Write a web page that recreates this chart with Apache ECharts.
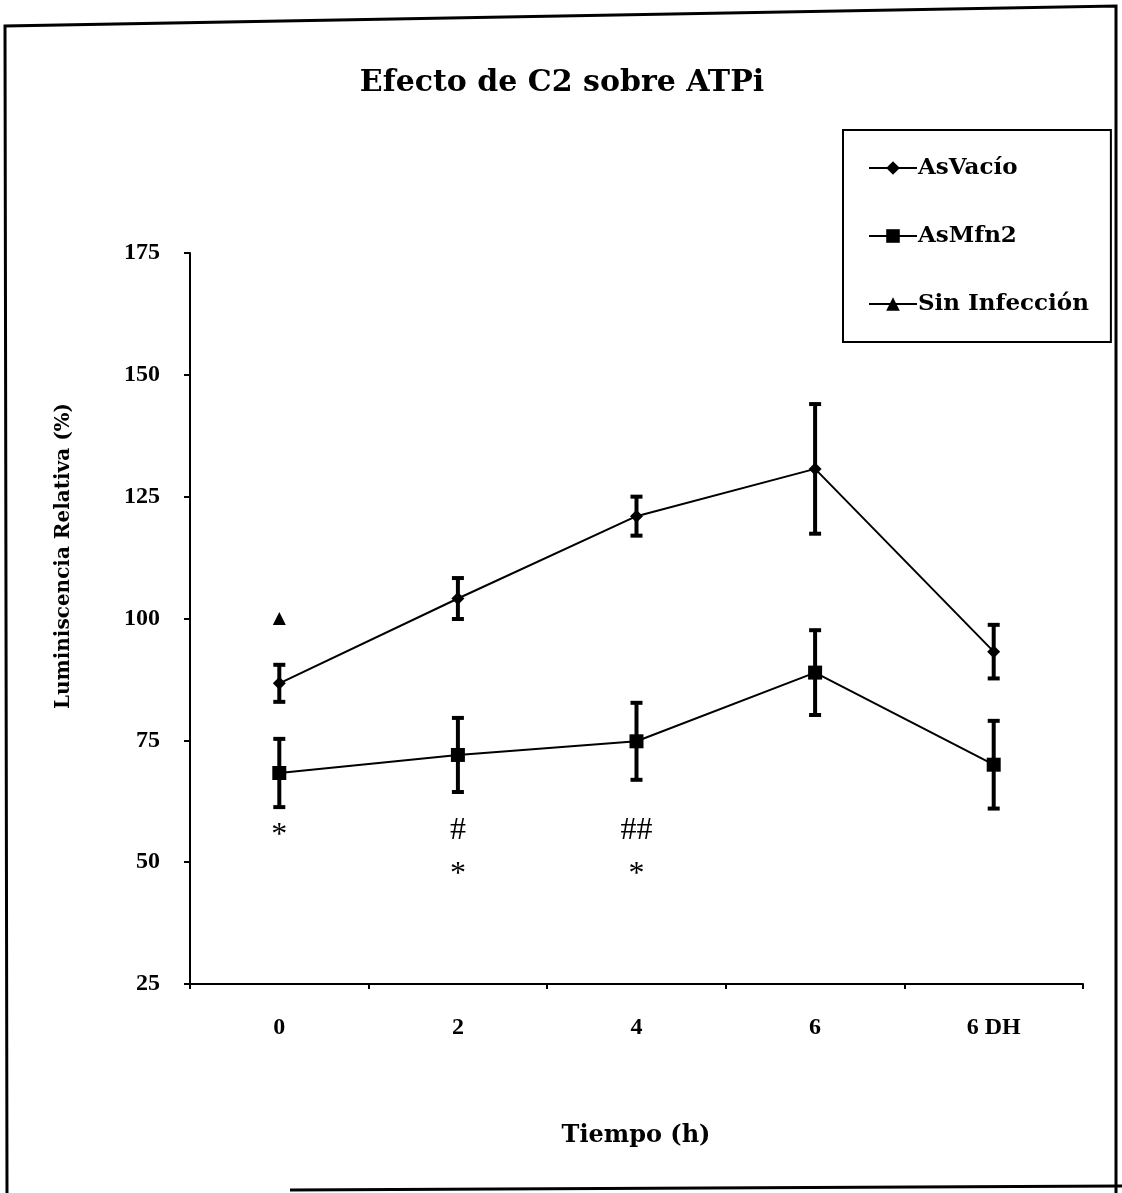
<!DOCTYPE html>
<html>
<head>
<meta charset="utf-8">
<script src="https://cdn.jsdelivr.net/npm/echarts@6/dist/echarts.min.js"></script>
<style>
  html, body { margin: 0; padding: 0; background: #fff; }
  #chart { width: 1122px; height: 1193px; }
</style>
</head>
<body>
<div id="chart"></div>
<script>
// categorías del eje X
const tiempos = ['0', '2', '4', '6', '6 DH'];

// medias
const asVacio = [86.7, 104.1, 121.0, 130.7, 93.2];
const asMfn2 = [68.3, 72.0, 74.8, 88.9, 70.0];
const sinInfeccion = [100, '-', '-', '-', '-'];

// error (±)
const errVacio = [3.8, 4.2, 4.0, 13.3, 5.5];
const errMfn2 = [7.0, 7.6, 7.9, 8.7, 9.0];

// marcas de significación: [categoría, valor, texto]
const marcas = [[0, 55.5, '*'], [1, 56.5, '#'], [1, 47.5, '*'], [2, 56.5, '##'], [2, 47.5, '*']];

const serif = '"DejaVu Serif", "Liberation Serif", serif';
const times = '"Liberation Serif", serif';

const chart = echarts.init(document.getElementById('chart'));

function errorData(means, errs) {
    return means.map((m, i) => [i, m - errs[i], m + errs[i]]);
}

function renderError(params, api) {
    const lo = api.coord([api.value(0), api.value(1)]);
    const hi = api.coord([api.value(0), api.value(2)]);
    const cap = 6;
    const style = { stroke: '#000', lineWidth: 4 };
    return {
        type: 'group',
        children: [
            { type: 'line', shape: { x1: lo[0], y1: lo[1], x2: hi[0], y2: hi[1] }, style },
            { type: 'line', shape: { x1: hi[0] - cap, y1: hi[1], x2: hi[0] + cap, y2: hi[1] }, style },
            { type: 'line', shape: { x1: lo[0] - cap, y1: lo[1], x2: lo[0] + cap, y2: lo[1] }, style }
        ]
    };
}

const option = {
    backgroundColor: '#fff',
    animation: false,
    title: {
        text: 'Efecto de C2 sobre ATPi',
        left: 557,
        textAlign: 'center',
        top: 63,
        textStyle: { fontFamily: serif, fontSize: 30, fontWeight: 'bold', color: '#000' }
    },
    legend: {
        orient: 'vertical',
        left: 843,
        top: 130,
        padding: [26, 22, 26, 25],
        itemGap: 44,
        itemWidth: 48,
        itemHeight: 17,
        borderColor: '#000',
        borderWidth: 2,
        data: ['AsVacío', 'AsMfn2', 'Sin Infección'],
        textStyle: { fontFamily: serif, fontSize: 23, fontWeight: 'bold', color: '#000', lineHeight: 24, padding: [0, 0, 0, -4] }
    },
    grid: { left: 190, right: 39, top: 253, bottom: 209 },
    xAxis: {
        type: 'category',
        data: tiempos,
        boundaryGap: true,
        axisLine: { lineStyle: { color: '#000', width: 2 } },
        axisTick: { show: true, length: 5, lineStyle: { color: '#000', width: 2 } },
        axisLabel: { margin: 32, fontFamily: times, fontSize: 24, fontWeight: 'bold', color: '#000' }
    },
    yAxis: {
        type: 'value',
        min: 25,
        max: 175,
        interval: 25,
        axisLine: { show: true, lineStyle: { color: '#000', width: 2 } },
        axisTick: { show: true, length: 6, lineStyle: { color: '#000', width: 2 } },
        splitLine: { show: false },
        axisLabel: { margin: 30, fontFamily: times, fontSize: 24, fontWeight: 'bold', color: '#000' }
    },
    graphic: [
        {
            type: 'text',
            rotation: Math.PI / 2,
            x: 64,
            y: 556,
            style: {
                text: 'Luminiscencia Relativa (%)',
                font: 'bold 20px ' + serif,
                fill: '#000',
                align: 'center',
                verticalAlign: 'middle'
            }
        },
        {
            type: 'text',
            x: 636,
            y: 1136,
            style: { text: 'Tiempo (h)', font: 'bold 24px ' + serif, fill: '#000', align: 'center', verticalAlign: 'middle' }
        },
        {
            type: 'polyline',
            shape: { points: [[7, 1193], [5, 26], [1116, 6], [1116, 1193]] },
            style: { stroke: '#000', lineWidth: 3, fill: null }
        },
        {
            type: 'line',
            shape: { x1: 290, y1: 1190, x2: 1122, y2: 1186 },
            style: { stroke: '#000', lineWidth: 3 }
        }
    ],
    series: [
        {
            name: 'AsVacío',
            type: 'line',
            data: asVacio,
            symbol: 'diamond',
            symbolSize: 13,
            z: 3,
            itemStyle: { color: '#000' },
            lineStyle: { color: '#000', width: 2 }
        },
        {
            name: 'AsMfn2',
            type: 'line',
            data: asMfn2,
            symbol: 'rect',
            symbolSize: 14,
            z: 3,
            itemStyle: { color: '#000' },
            lineStyle: { color: '#000', width: 2 }
        },
        {
            name: 'Sin Infección',
            type: 'line',
            data: sinInfeccion,
            symbol: 'triangle',
            symbolSize: 13,
            z: 3,
            itemStyle: { color: '#000' },
            lineStyle: { color: '#000', width: 2 }
        },
        {
            type: 'custom',
            renderItem: renderError,
            data: errorData(asVacio, errVacio),
            encode: { x: 0, y: [1, 2] },
            z: 2,
            silent: true
        },
        {
            type: 'custom',
            renderItem: renderError,
            data: errorData(asMfn2, errMfn2),
            encode: { x: 0, y: [1, 2] },
            z: 2,
            silent: true
        },
        {
            type: 'custom',
            data: marcas,
            encode: { x: 0, y: 1 },
            silent: true,
            renderItem: function (params, api) {
                const p = api.coord([api.value(0), api.value(1)]);
                return {
                    type: 'text',
                    x: p[0],
                    y: p[1],
                    style: {
                        text: marcas[params.dataIndex][2],
                        font: '32px ' + times,
                        fill: '#000',
                        align: 'center',
                        verticalAlign: 'middle'
                    }
                };
            }
        }
    ]
};

chart.setOption(option);
</script>
</body>
</html>
